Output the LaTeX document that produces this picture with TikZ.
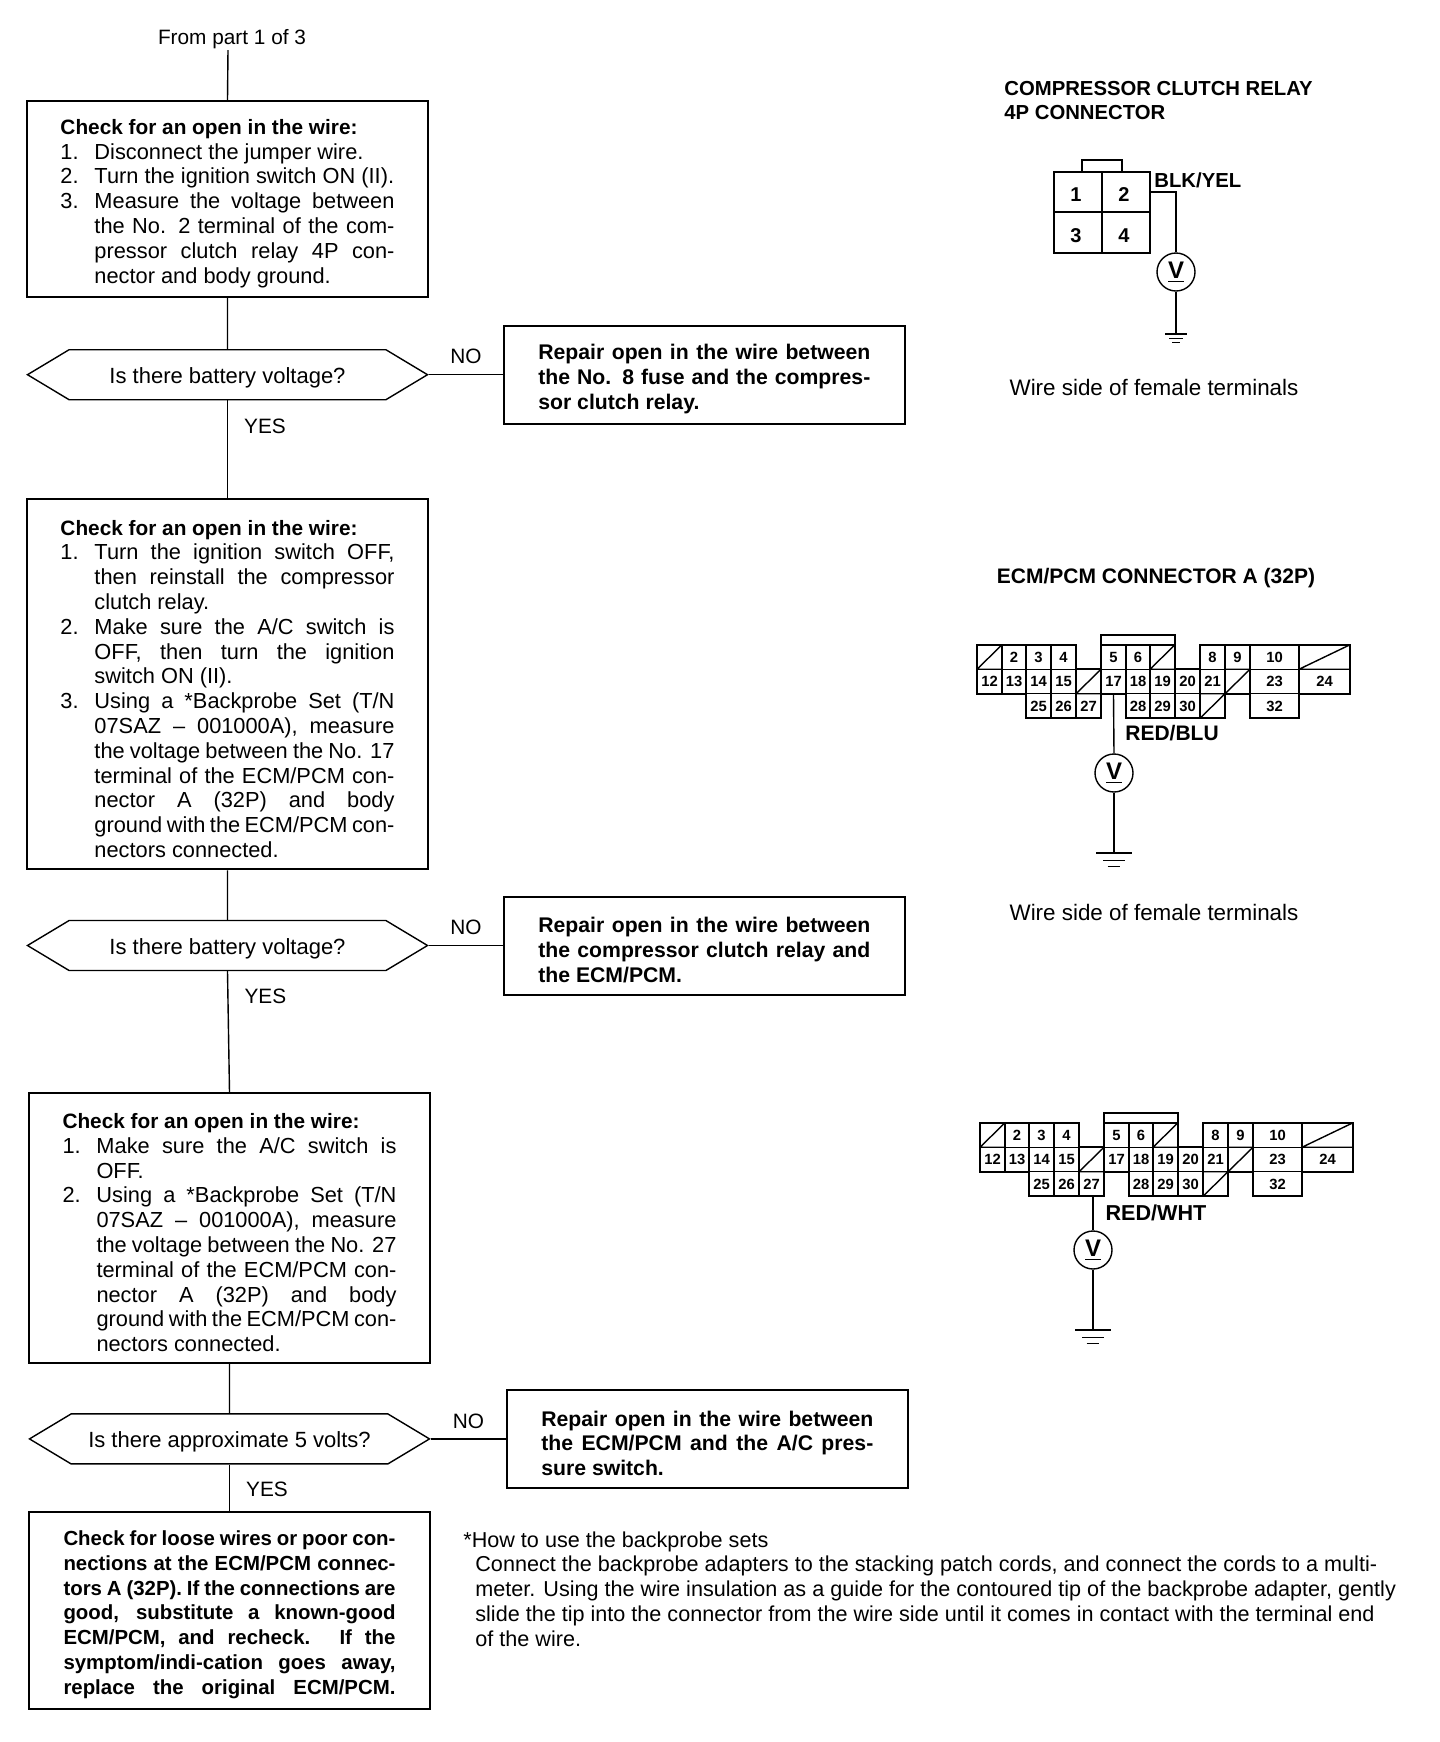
\documentclass[tikz,border=0pt]{standalone}
\usepackage{fontspec}
\setmainfont{Liberation Sans}
\usepackage{xcolor}
\usepackage{tikz}
\usetikzlibrary{positioning,shapes.symbols}

% numbered and stretched text lines for the boxes
\newcommand{\topl}{\rule{0pt}{12pt}}
\newcommand{\numl}[2]{\makebox[17pt][l]{#1}#2}
\newcommand{\numj}[2]{\makebox[17pt][l]{#1}\makebox[150pt][s]{#2}}
\newcommand{\fullj}[1]{\makebox[166pt][s]{#1}}
% ground symbol
\newcommand{\gnd}[2]{%
  \draw[wire] ([xshift=-#2pt]#1) -- ([xshift=#2pt]#1);
  \draw[wire] ([xshift=-0.6*#2pt,yshift=-#2*0.4pt]#1) -- ([xshift=0.6*#2pt,yshift=-#2*0.4pt]#1);
  \draw[wire] ([xshift=-0.35*#2pt,yshift=-#2*0.75pt]#1) -- ([xshift=0.35*#2pt,yshift=-#2*0.75pt]#1);
}
% 32P connector, #1 is the prefix of the cell names
\newcommand{\ecmconn}[1]{%
  \foreach \xa/\xb/\ya/\lab in {1002/1026/657/2,1026/1051/657/3,1051/1076/657/4,1101/1126/657/5,1126/1150/657/6,
    1200/1225/657/8,1225/1250/657/9,1250/1299/657/10,
    977/1002/681.5/12,1002/1026/681.5/13,1026/1051/681.5/14,1051/1076/681.5/15,1101/1126/681.5/17,1126/1150/681.5/18,
    1150/1175/681.5/19,1175/1200/681.5/20,1200/1225/681.5/21,1250/1299/681.5/23,1299/1350/681.5/24,
    1026/1051/706/25,1051/1076/706/26,1076/1101/706/27,1126/1150/706/28,1150/1175/706/29,1175/1200/706/30,1250/1299/706/32}
    \node[cell, minimum width={(\xb-\xa)*0.5pt}] (#1\lab) at ({(\xa+\xb)/2},\ya) {\lab};
  \foreach \xa/\xb/\ya in {977/1002/657,1150/1175/657,1299/1350/657,1076/1101/681.5,1225/1250/681.5,1200/1225/706}
    \draw[wire] ({\xa},{\ya-12.25}) rectangle ({\xb},{\ya+12.25}) ({\xa},{\ya+12.25}) -- ({\xb},{\ya-12.25});
  \draw[outl] (977,645) -- (1076,645) -- (1076,669) -- (1101,669) -- (1101,645) -- (1175,645) -- (1175,669) -- (1200,669)
    -- (1200,645) -- (1350,645) -- (1350,694) -- (1299,694) -- (1299,718) -- (1250,718) -- (1250,694) -- (1225,694)
    -- (1225,718) -- (1126,718) -- (1126,694) -- (1101,694) -- (1101,718) -- (1026,718) -- (1026,694) -- (977,694) -- cycle;
  \draw[outl] (1101,645) -- (1101,635) -- (1175,635) -- (1175,645);
}

\begin{document}
\begin{tikzpicture}[
  x=0.5pt, y=-0.5pt,
  wire/.style={line width=0.7pt},
  outl/.style={line width=1pt},
  chk/.style={rectangle, draw, line width=1pt, minimum width=200.5pt, inner sep=0pt, align=left, font=\fontsize{10.9}{12.4}\selectfont},
  rep/.style={chk, minimum height=49pt, font=\fontsize{10.6}{12.4}\selectfont\bfseries},
  ask/.style={signal, signal from=nowhere, signal to=west and east, signal pointer angle=62, draw, wire, minimum width=200pt, minimum height=25pt, inner sep=0pt, text height=9pt, text depth=0pt, font=\fontsize{11}{12.4}\selectfont},
  lbl/.style={inner sep=0pt, font=\fontsize{10.4}{12.4}\selectfont},
  side/.style={inner sep=0pt, font=\fontsize{11.2}{12.4}\selectfont},
  bold/.style={inner sep=0pt, align=left, font=\fontsize{10.15}{12.2}\selectfont\bfseries},
  cell/.style={rectangle, draw, wire, minimum height=12.25pt, inner sep=0pt, font=\fontsize{7.4}{8}\selectfont\bfseries},
  bigcell/.style={rectangle, draw, wire, minimum width=24pt, minimum height=20pt, inner sep=0pt, font=\fontsize{10}{12}\selectfont\bfseries},
  meter/.style={circle, draw, wire, minimum size=19pt, inner sep=0pt, font=\fontsize{12}{12}\selectfont\bfseries}
]
\useasboundingbox (0,0) rectangle (1440,1742);

% flow column
\node[lbl] (from) at (232,39) {From part 1 of 3};
\coordinate (fromend) at (228,50);
\node[chk, minimum height=98pt, below=25pt of fromend, xshift=-0.25pt] (chk1) {%
  \topl{\fontsize{10.4}{12.4}\selectfont\bfseries Check for an open in the wire:}\\
  \numl{1.}{Disconnect the jumper wire.}\\
  \numl{2.}{Turn the ignition switch ON (II).}\\
  \numj{3.}{Measure the voltage between}\\
  \numj{}{the No. 2 terminal of the com-}\\
  \numj{}{pressor clutch relay 4P con-}\\
  \numl{}{nector and body ground.}};
\node[ask, below=25.5pt of chk1] (q1) {Is there battery voltage?};
\node[rep, right=37pt of q1] (rep1) {%
  \topl\fullj{Repair open in the wire between}\\
  \fullj{the No. 8 fuse and the compres-}\\
  sor clutch relay.};
\node[chk, minimum height=185pt, below=49pt of q1] (chk2) {%
  \topl{\fontsize{10.4}{12.4}\selectfont\bfseries Check for an open in the wire:}\\
  \numj{1.}{Turn the ignition switch OFF,}\\
  \numj{}{then reinstall the compressor}\\
  \numl{}{clutch relay.}\\
  \numj{2.}{Make sure the A/C switch is}\\
  \numj{}{OFF, then turn the ignition}\\
  \numl{}{switch ON (II).}\\
  \numj{3.}{Using a *Backprobe Set (T/N}\\
  \numj{}{07SAZ -- 001000A), measure}\\
  \numj{}{the voltage between the No. 17}\\
  \numj{}{terminal of the ECM/PCM con-}\\
  \numj{}{nector A (32P) and body}\\
  \numj{}{ground with the ECM/PCM con-}\\
  \numl{}{nectors connected.}};
\node[ask, below=24.7pt of chk2] (q2) {Is there battery voltage?};
\node[rep, right=37pt of q2] (rep2) {%
  \topl\fullj{Repair open in the wire between}\\
  \fullj{the compressor clutch relay and}\\
  the ECM/PCM.};
\node[chk, minimum height=135pt, below=60.5pt of q2, xshift=1pt] (chk3) {%
  \topl{\fontsize{10.4}{12.4}\selectfont\bfseries Check for an open in the wire:}\\
  \numj{1.}{Make sure the A/C switch is}\\
  \numl{}{OFF.}\\
  \numj{2.}{Using a *Backprobe Set (T/N}\\
  \numj{}{07SAZ -- 001000A), measure}\\
  \numj{}{the voltage between the No. 27}\\
  \numj{}{terminal of the ECM/PCM con-}\\
  \numj{}{nector A (32P) and body}\\
  \numj{}{ground with the ECM/PCM con-}\\
  \numl{}{nectors connected.}};
\node[ask, below=24.5pt of chk3] (q3) {Is there approximate 5 volts?};
\node[rep, right=37.5pt of q3] (rep3) {%
  \topl\fullj{Repair open in the wire between}\\
  \fullj{the ECM/PCM and the A/C pres-}\\
  sure switch.};
\node[chk, minimum height=98.5pt, below=23pt of q3, font=\fontsize{10.2}{12.4}\selectfont\bfseries] (chk4) {%
  \topl\fullj{Check for loose wires or poor con-}\\
  \fullj{nections at the ECM/PCM connec-}\\
  \fullj{tors A (32P). If the connections are}\\
  \fullj{good, substitute a known-good}\\
  \fullj{ECM/PCM, and recheck. If the}\\
  \fullj{symptom/indi-cation goes away,}\\
  \fullj{replace the original ECM/PCM.}};
\node[lbl, anchor=north west, align=left, font=\fontsize{10.8}{12.4}\selectfont] (howto) at (463,1531) {%
  *How to use the backprobe sets\\
  \hspace*{6pt}Connect the backprobe adapters to the stacking patch cords, and connect the cords to a multi-\\
  \hspace*{6pt}meter. Using the wire insulation as a guide for the contoured tip of the backprobe adapter, gently\\
  \hspace*{6pt}slide the tip into the connector from the wire side until it comes in contact with the terminal end\\
  \hspace*{6pt}of the wire.};

\draw[wire] (fromend) -- (chk1.north);
\draw[wire] (chk1) -- (q1);
\draw[wire] (q1.east) -- node[lbl, above=5pt, pos=0.5] (no1) {NO} (rep1.west);
\draw[wire] (q1.south) -- node[lbl, right=8pt, pos=0.26] (yes1) {YES} (chk2.north);
\draw[wire] (chk2) -- (q2);
\draw[wire] (q2.east) -- node[lbl, above=5pt, pos=0.5] (no2) {NO} (rep2.west);
\draw[wire] (q2.south) -- node[lbl, right=8pt, pos=0.21] (yes2) {YES} (chk3.north);
\draw[wire] (chk3) -- (q3);
\draw[wire] (q3.east) -- node[lbl, above=5pt, pos=0.5] (no3) {NO} (rep3.west);
\draw[wire] (q3.south) -- node[lbl, right=8pt, pos=0.53] (yes3) {YES} (chk4.north);

% relay connector
\node[bold, anchor=north west] (title1) at (1004,81) {COMPRESSOR CLUTCH RELAY\\4P CONNECTOR};
\foreach \xc/\yc/\lab in {1078/192/1,1126/192/2,1078/232.5/3,1126/232.5/4}
  \node[bigcell] (r\lab) at (\xc,\yc) {\hspace*{-2pt}\raisebox{-4.8pt}[0pt][0pt]{\lab}};
\draw[outl] (1054,172) rectangle (1150,253);
\draw[wire] (1082,172) -- (1082,160) -- (1122,160) -- (1122,172);
\node[bold, anchor=west] (blk) at (1154,180) {BLK/YEL};
\node[meter] (v1) at (1176,272) {\underline{V}};
\coordinate (g1) at (1176,334);
\draw[wire] (r2.east) -| (v1.north);
\draw[wire] (v1.south) -- (g1);
\gnd{g1}{5.5}
\node[side] (side1) at (1154,387) {Wire side of female terminals};

% first 32P connector
\node[bold, font=\fontsize{10.5}{12.2}\selectfont\bfseries] (title2) at (1156,578) {ECM/PCM CONNECTOR A (32P)};
\ecmconn{a}
\node[bold, font=\fontsize{10.5}{12.2}\selectfont\bfseries] (redblu) at (1172,733) {RED/BLU};
\node[meter] (va) at (1114,773) {\underline{V}};
\coordinate (ga) at (1114,853);
\draw[wire] (a17.south) -- (va.north);
\draw[wire] (va.south) -- (ga);
\gnd{ga}{9}
\node[side] (side2) at (1154,912) {Wire side of female terminals};

% second 32P connector
\begin{scope}[shift={(3,478)}]
\ecmconn{b}
\end{scope}
\node[bold, font=\fontsize{10.8}{12.2}\selectfont\bfseries] (redwht) at (1156,1213) {RED/WHT};
\node[meter] (vb) at (1093,1250) {\underline{V}};
\coordinate (gb) at (1093,1330);
\draw[wire] (b27.south -| vb.north) -- (vb.north);
\draw[wire] (vb.south) -- (gb);
\gnd{gb}{9}
\end{tikzpicture}
\end{document}
